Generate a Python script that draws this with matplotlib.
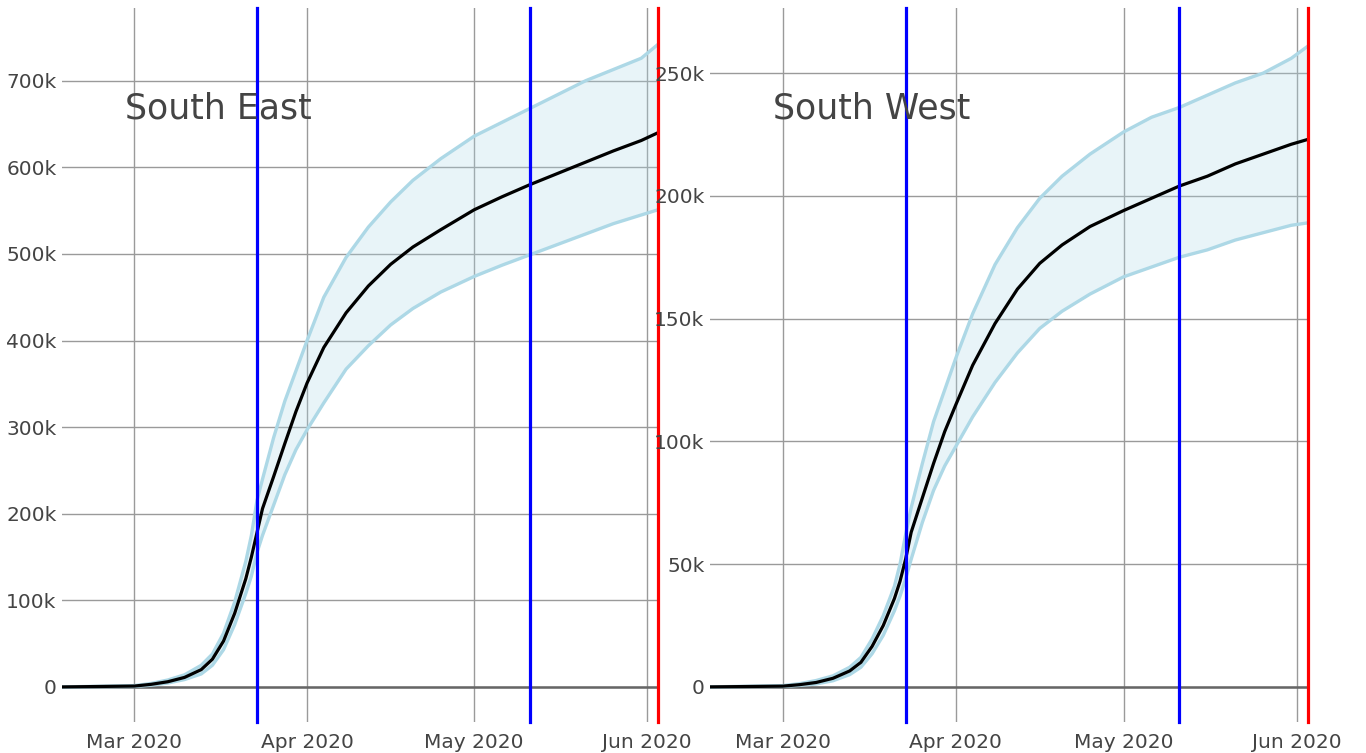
import pandas as pd
import matplotlib
matplotlib.use("Agg")
import matplotlib.pyplot as plt
import matplotlib.dates as mdates
from matplotlib.ticker import FuncFormatter, MultipleLocator

dates = ["2020-02-17", "2020-03-01", "2020-03-04", "2020-03-07", "2020-03-10",
         "2020-03-13", "2020-03-15", "2020-03-17", "2020-03-19", "2020-03-21",
         "2020-03-22", "2020-03-23", "2020-03-24", "2020-03-26", "2020-03-28",
         "2020-03-30", "2020-04-01", "2020-04-04", "2020-04-08", "2020-04-12",
         "2020-04-16", "2020-04-20", "2020-04-25", "2020-05-01", "2020-05-06",
         "2020-05-11", "2020-05-16", "2020-05-21", "2020-05-26", "2020-05-31",
         "2020-06-03"]

# values in thousands
se_mid = [0, 1, 3, 6, 11, 20, 32, 53, 85, 125, 150, 178, 206, 243, 281, 318,
          351, 392, 432, 463, 488, 508, 528, 551, 566, 580, 593, 606, 619, 631, 640]
se_upper = [0, 1.5, 4, 8, 14, 25, 38, 62, 98, 145, 175, 215, 240, 288, 330, 365,
            400, 450, 496, 531, 560, 585, 610, 636, 652, 668, 684, 700, 713, 726, 742]
se_lower = [0, 0.5, 2, 4.5, 8.5, 15, 25, 43, 72, 108, 128, 155, 175, 210, 245, 274,
            297, 328, 367, 394, 418, 437, 456, 474, 487, 499, 511, 523, 535, 545, 551]

sw_mid = [0, 0.3, 0.9, 1.8, 3.5, 6.5, 10, 16.5, 25, 36, 43, 52, 63, 77, 91, 104,
          115, 131, 148, 162, 172.5, 180, 187.5, 194, 199, 204, 208, 213, 217, 221, 223]
sw_upper = [0, 0.5, 1.3, 2.6, 4.5, 8, 12, 19.5, 29, 41, 50, 62, 73, 91, 108, 121,
            134, 152, 172, 187, 199, 208, 217, 226, 232, 236, 241, 246, 250, 256, 261]
sw_lower = [0, 0.2, 0.6, 1.2, 2.5, 5, 8, 13.5, 21, 31, 37, 44, 52, 67, 80, 90,
            98, 110, 124, 136, 146, 153, 160, 167, 171, 175, 178, 182, 185, 188, 189]

regions = ["South East", "South West"]
blue_dates = ["2020-03-23", "2020-05-11"]
red_date = "2020-06-03"
x_range = ("2020-02-17", "2020-06-03")
y_ranges = [(-40.5, 784), (-14.3, 276.5)]
y_steps = [100, 50]

GRID = "#9a9a9a"
TEXT = "#444444"


def k_format(v, pos):
    if abs(v) < 1e-9:
        return "0"
    return f"{v:.0f}k"


def draw_region(ax, name, mid, upper, lower, ylim, ystep):
    x = pd.to_datetime(dates)
    ax.fill_between(x, lower, upper, color="lightblue", alpha=0.28, lw=0, zorder=2)
    ax.plot(x, upper, color="lightblue", lw=2.4, zorder=3, solid_joinstyle="round")
    ax.plot(x, lower, color="lightblue", lw=2.4, zorder=3, solid_joinstyle="round")
    ax.plot(x, mid, color="black", lw=2.3, zorder=4, solid_joinstyle="round")

    for d in blue_dates:
        ax.axvline(pd.Timestamp(d), color="blue", lw=2.3, zorder=5, clip_on=False)
    ax.axvline(pd.Timestamp(red_date), color="red", lw=2.3, zorder=5, clip_on=False)

    ax.axhline(0, color="#666666", lw=1.8, zorder=1)

    ax.set_xlim(pd.Timestamp(x_range[0]), pd.Timestamp(x_range[1]))
    ax.set_ylim(*ylim)
    ax.yaxis.set_major_locator(MultipleLocator(ystep))
    ax.yaxis.set_major_formatter(FuncFormatter(k_format))
    ax.xaxis.set_major_locator(mdates.MonthLocator())
    ax.xaxis.set_major_formatter(mdates.DateFormatter("%b %Y"))

    ax.grid(True, color=GRID, lw=1.0, zorder=0)
    ax.set_axisbelow(True)
    for s in ax.spines.values():
        s.set_visible(False)
    ax.tick_params(length=0, labelsize=14.5, labelcolor=TEXT)
    ax.tick_params(axis="x", pad=8)
    ax.tick_params(axis="y", pad=4)

    ax.text(0.106, 0.845, name, transform=ax.transAxes, fontsize=25,
            color=TEXT, ha="left", va="baseline", zorder=6)


fig = plt.figure(figsize=(13.66, 7.53), dpi=100)
ax1 = fig.add_axes([62 / 1366, 31 / 753, 596 / 1366, 714 / 753])
ax2 = fig.add_axes([710 / 1366, 31 / 753, 598 / 1366, 714 / 753])

draw_region(ax1, regions[0], se_mid, se_upper, se_lower, y_ranges[0], y_steps[0])
draw_region(ax2, regions[1], sw_mid, sw_upper, sw_lower, y_ranges[1], y_steps[1])

fig.savefig("out.png", dpi=100)
